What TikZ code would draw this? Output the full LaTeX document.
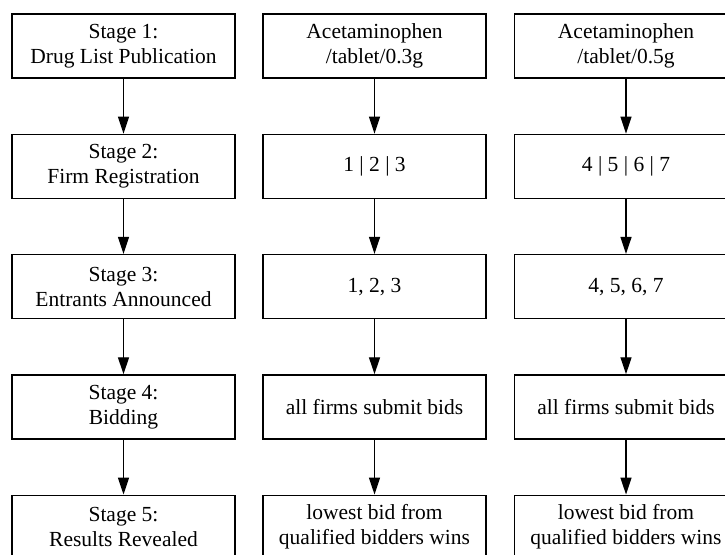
\documentclass[tikz,border=0pt]{standalone}
\usepackage{fontspec}
\setmainfont{Liberation Serif}
\usetikzlibrary{positioning}
\usetikzlibrary{arrows.meta}

\begin{document}
\begin{tikzpicture}[x=1pt,y=1pt,
         stagebox/.style = {draw, line width=1.3pt, align=center,
         minimum width=223pt, minimum height=64pt, inner sep=2pt,
         font=\fontsize{21.5}{25}\selectfont},
         flow/.style = {line width=1.3pt, -{Triangle[length=17pt,width=11pt]}}
]
      \useasboundingbox (0,0) rectangle (725,-554);

      % stages
      \node[stagebox] at (123.5,-46)      (s1) {Stage 1:\\Drug List Publication};
      \node[stagebox, below=55pt of s1]   (s2) {Stage 2:\\Firm Registration};
      \node[stagebox, below=55pt of s2]   (s3) {Stage 3:\\Entrants Announced};
      \node[stagebox, below=55pt of s3]   (s4) {Stage 4:\\Bidding};
      \node[stagebox, below=55pt of s4]   (s5) {Stage 5:\\Results Revealed};

      % acetaminophen 0.3g
      \node[stagebox, right=26.7pt of s1] (a1) {Acetaminophen\\/tablet/0.3g};
      \node[stagebox, below=55pt of a1]   (a2) {1 | 2 | 3};
      \node[stagebox, below=55pt of a2]   (a3) {1, 2, 3};
      \node[stagebox, below=55pt of a3]   (a4) {all firms submit bids};
      \node[stagebox, below=55pt of a4]   (a5) {lowest bid from\\qualified bidders wins};

      % acetaminophen 0.5g
      \node[stagebox, right=27.2pt of a1] (b1) {Acetaminophen\\/tablet/0.5g};
      \node[stagebox, below=55pt of b1]   (b2) {4 | 5 | 6 | 7};
      \node[stagebox, below=55pt of b2]   (b3) {4, 5, 6, 7};
      \node[stagebox, below=55pt of b3]   (b4) {all firms submit bids};
      \node[stagebox, below=55pt of b4]   (b5) {lowest bid from\\qualified bidders wins};

      \draw[flow] (s1) -- (s2);
      \draw[flow] (s2) -- (s3);
      \draw[flow] (s3) -- (s4);
      \draw[flow] (s4) -- (s5);

      \draw[flow] (a1) -- (a2);
      \draw[flow] (a2) -- (a3);
      \draw[flow] (a3) -- (a4);
      \draw[flow] (a4) -- (a5);

      \draw[flow] (b1) -- (b2);
      \draw[flow] (b2) -- (b3);
      \draw[flow] (b3) -- (b4);
      \draw[flow] (b4) -- (b5);

   \end{tikzpicture}
\end{document}
